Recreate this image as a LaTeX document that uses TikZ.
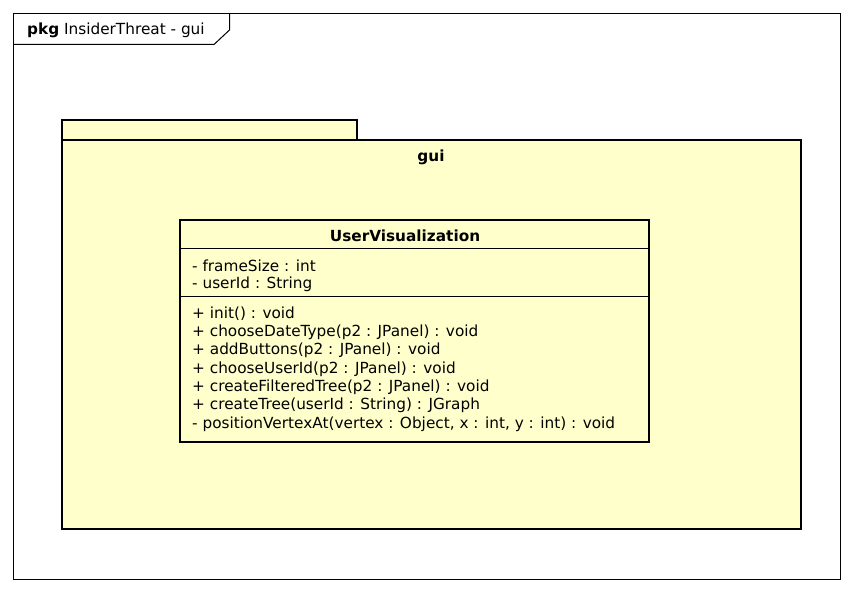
\documentclass[tikz,border=0pt]{standalone}
\usepackage{fontspec}
\setmainfont{DejaVu Sans}
\definecolor{umlfill}{RGB}{255,255,204}
\begin{document}
\begin{tikzpicture}[x=1pt,y=-1pt,
  txt/.style={inner sep=0pt,anchor=west,font=\fontsize{15.3}{17}\selectfont},
  btxt/.style={inner sep=0pt,font=\fontsize{15.3}{17}\selectfont\bfseries},
  thick3/.style={line width=2.6pt}]
\useasboundingbox (0,0) rectangle (854,593);
\fill[white] (0,0) rectangle (854,593);
% frame
\draw[line width=1pt] (13.5,13.5) rectangle (840.5,579.5);
\draw[line width=1pt] (13.5,44.5) -- (214,44.5) -- (229.5,30) -- (229.5,13.5);
\node[txt] (frlabel) at (27,30.5) {\textbf{pkg} InsiderThreat - gui};
% package
\draw[thick3,fill=umlfill] (62,120) rectangle (357,140);
\draw[thick3,fill=umlfill] (62,140) rectangle (801,529);
\node[btxt] (pkgname) at (431,157.5) {gui};
% class
\draw[thick3,fill=umlfill] (180,220) rectangle (649,442);
\draw[line width=1pt] (180,249) -- (649,249);
\draw[line width=1pt] (180,297) -- (649,297);
\node[btxt] (cls) at (405,235.5) {UserVisualization};
\node[txt] (a1) at (192,266) {- frameSize : int};
\node[txt] (a2) at (192,284) {- userId : String};
\node[txt] (m1) at (192,314) {+ init() : void};
\node[txt] (m2) at (192,332) {+ chooseDateType(p2 : JPanel) : void};
\node[txt] (m3) at (192,350.5) {+ addButtons(p2 : JPanel) : void};
\node[txt] (m4) at (192,369) {+ chooseUserId(p2 : JPanel) : void};
\node[txt] (m5) at (192,387) {+ createFilteredTree(p2 : JPanel) : void};
\node[txt] (m6) at (192,405.5) {+ createTree(userId : String) : JGraph};
\node[txt] (m7) at (192,424) {- positionVertexAt(vertex : Object, x : int, y : int) : void};
\end{tikzpicture}
\end{document}
